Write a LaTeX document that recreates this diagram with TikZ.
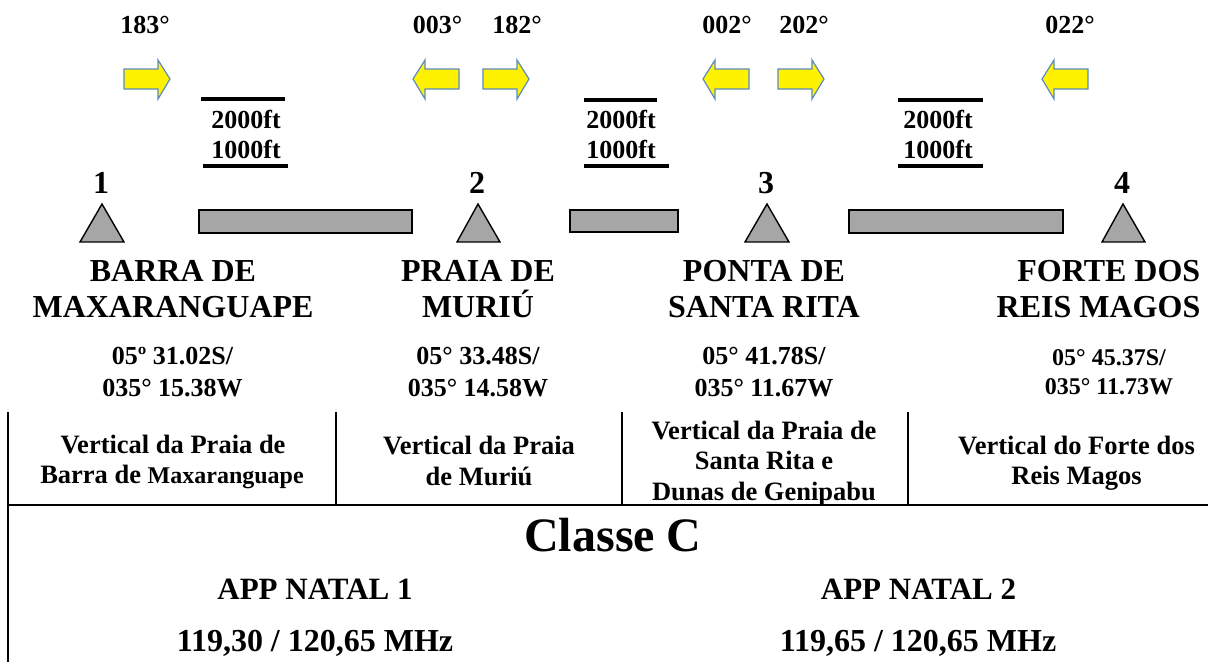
\documentclass[tikz,border=0pt]{standalone}
\usepackage{fontspec}
\setmainfont{Liberation Serif}
\newcommand{\fsz}[1]{\fontsize{#1}{#1}\selectfont\bfseries}
\definecolor{arrowblue}{HTML}{5B8BC0}
\tikzset{
  lbltxt/.style={inner sep=0pt,align=center,font=\fsz{26}},
  desctxt/.style={inner sep=0pt,align=center,font=\fsz{26.5}},
  nametxt/.style={inner sep=0pt,align=center,font=\fsz{32}},
  wptri/.style={draw=black,line width=1.4pt,fill=black!35,line join=miter},
  flowbar/.style={draw=black,line width=2pt,fill=black!35},
  altline/.style={draw=black,line width=3.5pt},
  frameline/.style={draw=black,line width=1.5pt},
  yarrow/.style={draw=arrowblue,line width=1.2pt,fill=yellow,line join=miter}
}
\newcommand{\rarr}[1]{\draw[yarrow] (#1-46,69)--(#1-12,69)--(#1-12,60)--(#1,79)--(#1-12,99)--(#1-12,89)--(#1-46,89)--cycle;}
\newcommand{\larr}[1]{\draw[yarrow] (#1+46,69)--(#1+12,69)--(#1+12,60)--(#1,79)--(#1+12,99)--(#1+12,89)--(#1+46,89)--cycle;}
\begin{document}
\begin{tikzpicture}[x=1pt,y=-1pt]
\useasboundingbox (0,0) rectangle (1208,662);
% headings
\node[lbltxt] (h1) at (145,25) {183°};
\node[lbltxt] (h2) at (437.5,25) {003°};
\node[lbltxt] (h3) at (517,25) {182°};
\node[lbltxt] (h4) at (727,25) {002°};
\node[lbltxt] (h5) at (804,25) {202°};
\node[lbltxt] (h6) at (1070,25) {022°};
% arrows
\rarr{170} \larr{413} \rarr{529} \larr{703} \rarr{824} \larr{1042}
% altitudes
\draw[altline] (201,99)--(285,99); \draw[altline] (203,166)--(288,166);
\draw[altline] (584,100)--(657,100); \draw[altline] (584,166)--(669,166);
\draw[altline] (898,100)--(983,100); \draw[altline] (898,166)--(983,166);
\node[lbltxt] (a1) at (246,119) {2000ft};
\node[lbltxt] (b1) at (246,149) {1000ft};
\node[lbltxt] (a2) at (621,119) {2000ft};
\node[lbltxt] (b2) at (621,149) {1000ft};
\node[lbltxt] (a3) at (938,119) {2000ft};
\node[lbltxt] (b3) at (938,149) {1000ft};
% numbers
\node[nametxt] (n1) at (101,183) {1};
\node[nametxt] (n2) at (477,183) {2};
\node[nametxt] (n3) at (766,183) {3};
\node[nametxt] (n4) at (1122,183) {4};
% triangles
\draw[wptri] (102,204)--(124,242)--(80,242)--cycle;
\draw[wptri] (478,204)--(500,242)--(457,242)--cycle;
\draw[wptri] (767,204)--(789,242)--(745,242)--cycle;
\draw[wptri] (1123,204)--(1145,242)--(1102,242)--cycle;
% bars
\draw[flowbar] (199,210) rectangle (412,233);
\draw[flowbar] (570,209.5) rectangle (678,232);
\draw[flowbar] (849,210) rectangle (1063,233);
% place names
\node[nametxt] (p1) at (173,289.25) {BARRA DE\\[4pt]MAXARANGUAPE};
\node[nametxt] (p2) at (478,289.25) {PRAIA DE\\[4pt]MURIÚ};
\node[nametxt] (p3) at (764,289.25) {PONTA DE\\[4pt]SANTA RITA};
\node[nametxt,align=right,anchor=east] (p4) at (1200.5,289.25) {FORTE DOS\\[4pt]REIS MAGOS};
% coordinates
\node[lbltxt] (c1) at (172.5,372) {05º 31.02S/\\[6pt]035° 15.38W};
\node[lbltxt] (c2) at (478,372) {05° 33.48S/\\[6pt]035° 14.58W};
\node[lbltxt] (c3) at (764,372) {05° 41.78S/\\[6pt]035° 11.67W};
\node[lbltxt,font=\fsz{24}] (c4) at (1109,372.5) {05° 45.37S/\\[5pt]035° 11.73W};
% frame
\draw[frameline] (8,412)--(8,662);
\draw[frameline] (336,412)--(336,505);
\draw[frameline] (622,412)--(622,505);
\draw[frameline] (908,412)--(908,505);
\draw[frameline] (8,505)--(1208,505);
% descriptions
\node[desctxt] (d1) at (172,462) {\hspace*{2pt}Vertical da Praia de\\[4pt]Barra de {\fontsize{24}{24}\selectfont Maxaranguape}};
\node[desctxt] (d2) at (479,461) {Vertical da Praia\\[4pt]de Muriú};
\node[desctxt] (d3) at (764,463.5) {Vertical da Praia de\\[4pt]Santa Rita e\\[4pt]Dunas de Genipabu};
\node[desctxt] (d4) at (1076.5,463) {Vertical do Forte dos\\[4pt]Reis Magos};
% bottom
\node[inner sep=0pt,font=\fsz{48}] (cl) at (613,535.5) {Classe C};
\node[inner sep=0pt,font=\fsz{31}] (app1) at (315,589) {APP NATAL 1};
\node[inner sep=0pt,font=\fsz{31}] (app2) at (918.5,589) {APP NATAL 2};
\node[inner sep=0pt,font=\fsz{32}] (f1) at (315,643.5) {119,30 / 120,65 MHz};
\node[inner sep=0pt,font=\fsz{32}] (f2) at (918,643.5) {119,65 / 120,65 MHz};
\end{tikzpicture}
\end{document}
